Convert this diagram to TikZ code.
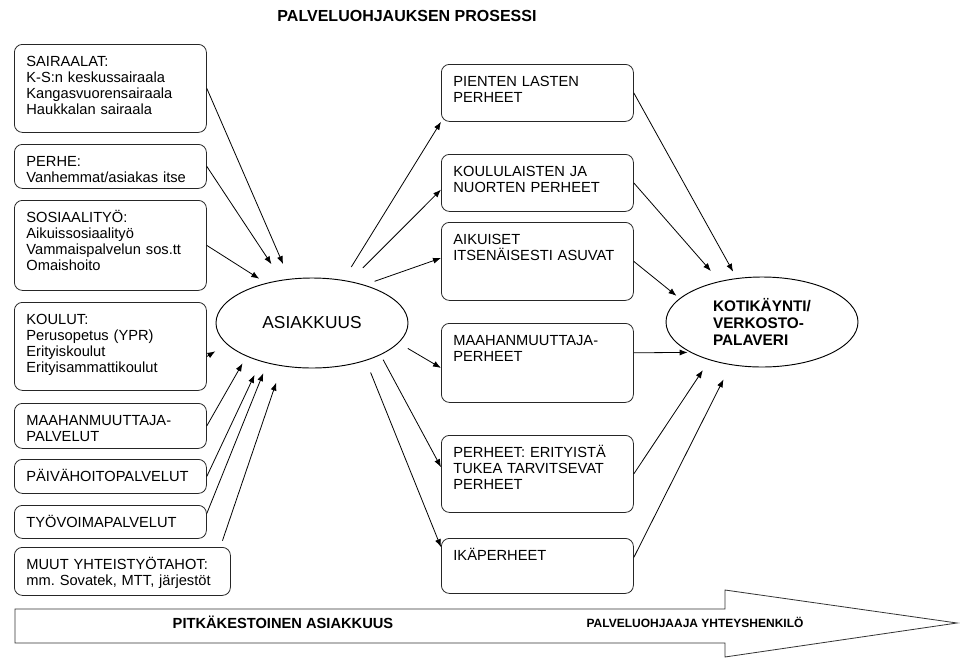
\documentclass[tikz,border=0pt]{standalone}
\usepackage{fontspec}
\setmainfont{Liberation Sans}
\usepackage{tikz}
\usetikzlibrary{shapes.geometric,arrows.meta}
\frenchspacing

\begin{document}
\begin{tikzpicture}[x=0.75pt, y=-0.75pt, >={Latex[length=6pt,width=4.5pt]},
    box/.style={draw=black!85, line width=0.6pt, rounded corners=6pt, anchor=north west,
        align=left, text width=126pt, inner xsep=9pt, inner ysep=0pt, text height=16.5pt,
        font=\fontsize{11}{12}\selectfont},
    oval/.style={draw, line width=0.7pt, ellipse, minimum width=144pt, minimum height=67.5pt, inner sep=0pt},
    arr/.style={->, line width=0.6pt}]
    \useasboundingbox (0,0) rectangle (960,657);

    \node [font=\fontsize{12}{14}\bfseries] (title) at (407,16) {PALVELUOHJAUKSEN PROSESSI};

    % left column: where the clients come from
    \node [box, text depth=49.5pt] (sair) at (14,44) {SAIRAALAT:\\K-S:n keskussairaala\\Kangasvuorensairaala\\Haukkalan sairaala};
    \node [box, text depth=16.5pt] (perhe) at (14,144) {PERHE:\\Vanhemmat/asiakas itse};
    \node [box, text depth=51pt] (sos) at (14,200) {SOSIAALITYÖ:\\Aikuissosiaalityö\\Vammaispalvelun sos.tt\\Omaishoito};
    \node [box, text depth=49.5pt] (koul) at (14,302) {KOULUT:\\Perusopetus (YPR)\\Erityiskoulut\\Erityisammattikoulut};
    \node [box, text depth=17.25pt] (maah) at (14,403) {MAAHANMUUTTAJA-\\PALVELUT};
    \node [box, text depth=9pt] (paiva) at (14,459) {PÄIVÄHOITOPALVELUT};
    \node [box, text depth=8.25pt] (tyo) at (14,505) {TYÖVOIMAPALVELUT};
    \node [box, text depth=19.5pt, text width=144pt] (muut) at (14,547) {MUUT YHTEISTYÖTAHOT:\\mm. Sovatek, MTT, järjestöt};

    % the two ovals
    \node [oval, font=\fontsize{13}{15}\selectfont] (asiak) at (312,323) {ASIAKKUUS};
    \node [oval, align=left, font=\fontsize{11.5}{12.5}\bfseries] (koti) at (762,322) {KOTIKÄYNTI/\\VERKOSTO-\\PALAVERI};

    % middle column: client groups
    \node [box, text depth=26.25pt] (pien) at (441,64) {PIENTEN LASTEN\\PERHEET};
    \node [box, text depth=26.25pt] (koulu) at (441,154) {KOULULAISTEN JA\\NUORTEN PERHEET};
    \node [box, text depth=42pt] (aikui) at (441,222) {AIKUISET\\ITSENÄISESTI ASUVAT};
    \node [box, text depth=42.75pt] (maahp) at (441,323) {MAAHANMUUTTAJA-\\PERHEET};
    \node [box, text depth=41.25pt] (erit) at (441,435) {PERHEET: ERITYISTÄ\\TUKEA TARVITSEVAT\\PERHEET};
    \node [box, text depth=24.75pt] (ika) at (441,538) {IKÄPERHEET};

    % into ASIAKKUUS
    \draw [arr, shorten >=12pt] (sair.east) -- (asiak.117);
    \draw [arr, shorten >=14pt] (perhe.east) -- (asiak.125);
    \draw [arr, shorten >=6pt] (sos.east) -- (asiak.139);
    \draw [arr, shorten >=10pt] (koul.-6) -- (asiak.194);
    \draw [arr, shorten >=6pt] (maah.east) -- (asiak.207);
    \draw [arr, shorten >=11pt] (paiva.east) -- (asiak.217);
    \draw [arr, shorten >=8pt] (tyo.5) -- (asiak.222);
    \draw [arr, shorten <=5pt, shorten >=13pt] (muut.14) -- (asiak.235);

    % out of ASIAKKUUS
    \draw [arr, shorten <=11.5pt] (asiak.54) -- (pien.south west);
    \draw [arr, shorten <=14pt] (asiak.48) -- (koulu.184);
    \draw [arr, shorten <=8pt] (asiak.36) -- (aikui.178);
    \draw [arr, shorten <=8pt] (asiak.-13.5) -- (maahp.183);
    \draw [arr, shorten <=4pt] (asiak.-25) -- (erit.176);
    \draw [arr, shorten <=9.5pt] (asiak.-35.5) -- (ika.169);

    % into KOTIKAYNTI
    \draw [arr, shorten >=5.5pt] (pien.east) -- (koti.120);
    \draw [arr, shorten >=10pt] (koulu.east) -- (koti.136);
    \draw [arr, shorten >=3pt] (aikui.east) -- (koti.164);
    \draw [arr, shorten >=2pt] (maahp.6) -- (koti.203);
    \draw [arr, shorten >=9pt] (erit.east) -- (koti.216);
    \draw [arr, shorten >=12pt] (ika.5) -- (koti.234.5);

    % long arrow at the bottom
    \draw [line width=0.6pt, draw=black!80] (15,609) -- (725,609) -- (725,590) -- (957,623)
        -- (725,657) -- (725,643) -- (15,643) -- cycle;
    \node [font=\fontsize{11}{13}\bfseries] (pitka) at (283,622) {PITKÄKESTOINEN ASIAKKUUS};
    \node [font=\fontsize{9}{11}\bfseries] (yhteys) at (695,622) {PALVELUOHJAAJA YHTEYSHENKILÖ};
\end{tikzpicture}
\end{document}
